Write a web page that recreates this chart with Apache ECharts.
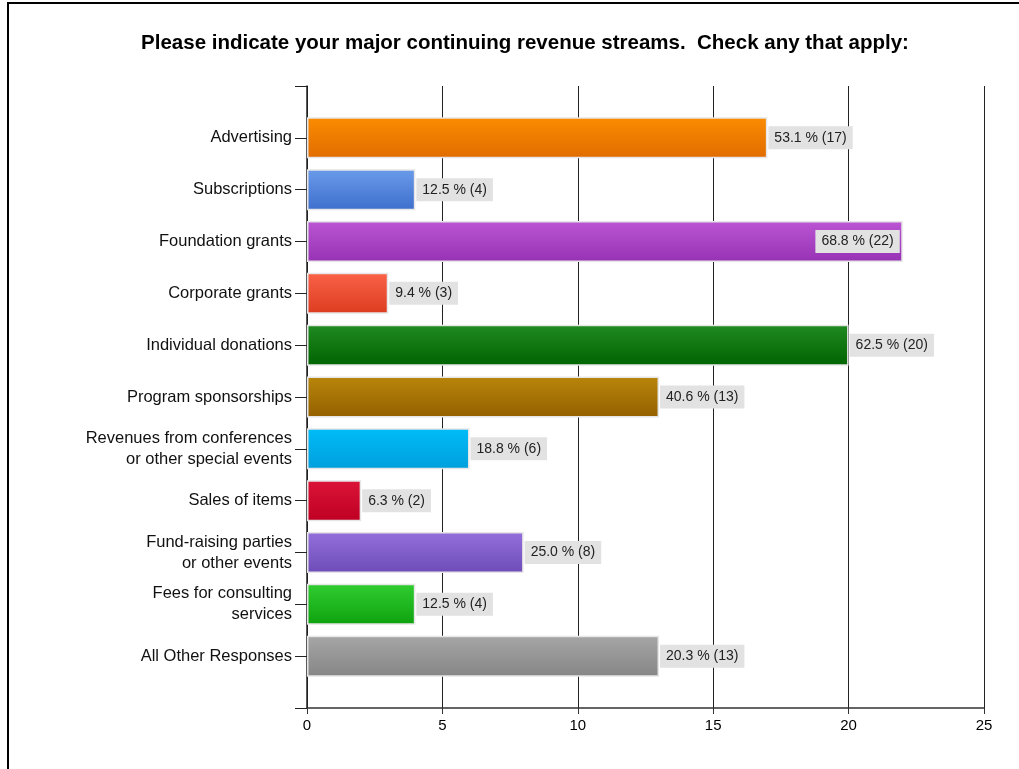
<!DOCTYPE html>
<html>
<head>
<meta charset="utf-8">
<script src="https://cdn.jsdelivr.net/npm/echarts@6/dist/echarts.min.js"></script>
<style>
html,body{margin:0;padding:0;background:#fff;}
#chart{width:1019px;height:769px;}
</style>
</head>
<body>
<div id="chart"></div>
<script>
var titleText = 'Please indicate your major continuing revenue streams.  Check any that apply:';
var categories = [
  'Advertising',
  'Subscriptions',
  'Foundation grants',
  'Corporate grants',
  'Individual donations',
  'Program sponsorships',
  'Revenues from conferences\nor other special events',
  'Sales of items',
  'Fund-raising parties\nor other events',
  'Fees for consulting\nservices',
  'All Other Responses'
];
var counts = [17, 4, 22, 3, 20, 13, 6, 2, 8, 4, 13];
var percents = ['53.1', '12.5', '68.8', '9.4', '62.5', '40.6', '18.8', '6.3', '25.0', '12.5', '20.3'];
var barTopColors = ['#fb8c00', '#6a9bea', '#bb55d3', '#fa6248', '#218a21', '#b8860b', '#00bcf8', '#db1438', '#9370db', '#30cd30', '#a6a6a6'];
var barBottomColors = ['#e06c00', '#3e6fcc', '#9632b4', '#dc3c20', '#006400', '#946000', '#009fdc', '#be0022', '#6e4cb8', '#0fa20f', '#868686'];
var xTicks = [0, 5, 10, 15, 20, 25];

var chart = echarts.init(document.getElementById('chart'));
var axisCats = [''].concat(categories).concat(['']);
var data = [null];
for (var i = 0; i < categories.length; i++) {
  var overflow = counts[i] > 21;
  data.push({
    value: counts[i],
    itemStyle: {
      color: new echarts.graphic.LinearGradient(0, 0, 0, 1, [
        {offset: 0, color: barTopColors[i]},
        {offset: 1, color: barBottomColors[i]}
      ])
    },
    label: {
      position: overflow ? 'insideRight' : 'right',
      distance: overflow ? 3 : 1,
      formatter: percents[i] + ' % (' + counts[i] + ')'
    }
  });
}
data.push(null);

chart.setOption({
  animation: false,
  backgroundColor: '#fff',
  title: {
    text: titleText,
    left: 520,
    top: 28,
    textAlign: 'center',
    textStyle: {fontFamily: 'Liberation Sans, Arial, sans-serif', fontSize: 20.5, fontWeight: 'bold', color: '#000'}
  },
  graphic: [{
    type: 'rect',
    shape: {x: 8, y: 3, width: 1200, height: 1000},
    style: {fill: 'none', stroke: '#000', lineWidth: 2},
    silent: true
  }],
  grid: {left: 307, right: 35, top: 86, bottom: 61, containLabel: false},
  xAxis: {
    type: 'value',
    min: xTicks[0],
    max: xTicks[xTicks.length - 1],
    interval: 5,
    axisLine: {show: true, lineStyle: {color: '#333', width: 1.5}},
    axisTick: {show: true, length: 6, lineStyle: {color: '#333'}},
    axisLabel: {margin: 10, fontFamily: 'Liberation Sans, Arial, sans-serif', fontSize: 15, color: '#000'},
    splitLine: {show: true, lineStyle: {color: '#222', width: 1}}
  },
  yAxis: {
    type: 'category',
    data: axisCats,
    inverse: true,
    boundaryGap: false,
    axisLine: {show: true, lineStyle: {color: '#222', width: 1.5}},
    axisTick: {show: true, length: 12, lineStyle: {color: '#222'}},
    axisLabel: {
      margin: 15,
      fontFamily: 'Liberation Sans, Arial, sans-serif',
      fontSize: 16.5,
      lineHeight: 21,
      color: '#111',
      align: 'right',
      interval: 0
    },
    splitLine: {show: false}
  },
  series: [{
    type: 'bar',
    data: data,
    barWidth: 41,
    itemStyle: {borderColor: '#e6e6e6', borderWidth: 1.5},
    label: {
      show: true,
      fontFamily: 'Liberation Sans, Arial, sans-serif',
      fontSize: 14,
      color: '#222',
      backgroundColor: '#e2e2e2',
      padding: [5, 6, 4, 6]
    }
  }]
});
</script>
</body>
</html>
